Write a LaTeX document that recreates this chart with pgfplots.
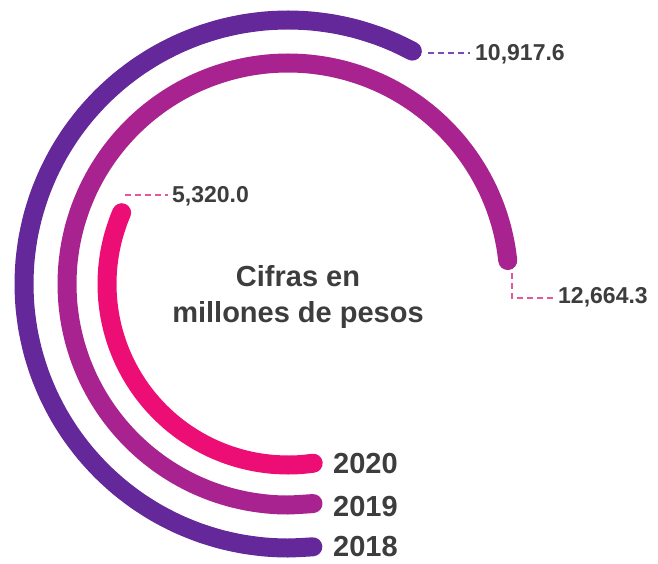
\documentclass[border=0pt]{standalone}
\usepackage{pgfplots}
\pgfplotsset{compat=1.18}
\usepackage{fontspec}
\setmainfont{Liberation Sans}
\definecolor{c18}{HTML}{64289A}
\definecolor{c19}{HTML}{A8238F}
\definecolor{c20}{HTML}{EC0E74}
\definecolor{d18}{HTML}{7B4BB5}
\definecolor{d20}{HTML}{E8559A}
\definecolor{txt}{HTML}{3D3D3D}
\begin{document}
\begin{tikzpicture}
\begin{axis}[x=1pt, y=1pt, xmin=-288, xmax=370, ymin=-279, ymax=284,
  hide axis, clip=false, no marks]
\path (axis cs:-288,-279) (axis cs:370,284);
% 2018 arc: 10,917.6
\addplot[data cs=polar, smooth, c18, line width=19pt, line cap=round, line join=round] coordinates {
(-84.6,264) (-90,264) (-95,264) (-100,264) (-105,264) (-110,264) (-115,264) (-120,264) (-125,264) (-130,264) (-135,264) (-140,264) (-145,264) (-150,264)
(-155,264) (-160,264) (-165,264) (-170,264) (-175,264) (-180,264) (-185,264) (-190,264) (-195,264) (-200,264) (-205,264) (-210,264) (-215,264) (-220,264) (-225,264) (-230,264)
(-235,264) (-240,264) (-245,264) (-250,264) (-255,264) (-260,264) (-265,264) (-270,264) (-275,264) (-280,264) (-285,264) (-290,264) (-294,264) (-298.1,264)};
% 2019 arc: 12,664.3
\addplot[data cs=polar, smooth, c19, line width=19pt, line cap=round, line join=round] coordinates {
(-83.5,221) (-90,221) (-95,221) (-100,221) (-105,221) (-110,221) (-115,221) (-120,221) (-125,221) (-130,221) (-135,221) (-140,221) (-145,221) (-150,221)
(-155,221) (-160,221) (-165,221) (-170,221) (-175,221) (-180,221) (-185,221) (-190,221) (-195,221) (-200,221) (-205,221) (-210,221) (-215,221) (-220,221) (-225,221) (-230,221)
(-235,221) (-240,221) (-245,221) (-250,221) (-255,221) (-260,221) (-265,221) (-270,221) (-275,221) (-280,221) (-285,221) (-290,221) (-295,221) (-300,221) (-305,221) (-310,221)
(-315,221) (-320,221) (-325,221) (-330,221) (-335,221) (-340,221) (-345,221) (-350,221) (-353.9,221)};
% 2020 arc: 5,320.0
\addplot[data cs=polar, smooth, c20, line width=19pt, line cap=round, line join=round] coordinates {
(-82,181) (-86,181) (-90,181) (-95,181) (-100,181) (-105,181) (-110,181) (-115,181) (-120,181) (-125,181) (-130,181) (-135,181) (-140,181) (-145,181) (-150,181)
(-155,181) (-160,181) (-165,181) (-170,181) (-175,181) (-180,181) (-185,181) (-190,181) (-195,181) (-200,181) (-203.2,181)};
% leaders
\addplot[d18, line width=2.5pt, dash pattern=on 6pt off 4pt] coordinates {(140,231) (182,231)};
\addplot[d20, line width=2.5pt, dash pattern=on 6pt off 4pt] coordinates {(224,11) (224,-14) (267,-14)};
\addplot[d20, line width=2.5pt, dash pattern=on 6pt off 4pt] coordinates {(-163,89) (-120,89)};
% value labels
\node[anchor=west, inner sep=0pt, text=txt, font=\fontsize{23}{27}\selectfont\bfseries] at (axis cs:187,230) {10,917.6};
\node[anchor=west, inner sep=0pt, text=txt, font=\fontsize{23}{27}\selectfont\bfseries] at (axis cs:270,-13) {12,664.3};
\node[anchor=west, inner sep=0pt, text=txt, font=\fontsize{23}{27}\selectfont\bfseries] at (axis cs:-116,88) {5,320.0};
% title
\node[anchor=base, inner sep=0pt, text=txt, font=\fontsize{29}{36}\selectfont\bfseries] at (axis cs:10,-2) {Cifras en};
\node[anchor=base, inner sep=0pt, text=txt, font=\fontsize{29}{36}\selectfont\bfseries] at (axis cs:10,-38) {millones de pesos};
% year labels
\node[anchor=west, inner sep=0pt, text=txt, font=\fontsize{29}{35}\selectfont\bfseries] at (axis cs:45,-180) {2020};
\node[anchor=west, inner sep=0pt, text=txt, font=\fontsize{29}{35}\selectfont\bfseries] at (axis cs:45,-223) {2019};
\node[anchor=west, inner sep=0pt, text=txt, font=\fontsize{29}{35}\selectfont\bfseries] at (axis cs:45,-263) {2018};
\end{axis}
\end{tikzpicture}
\end{document}
